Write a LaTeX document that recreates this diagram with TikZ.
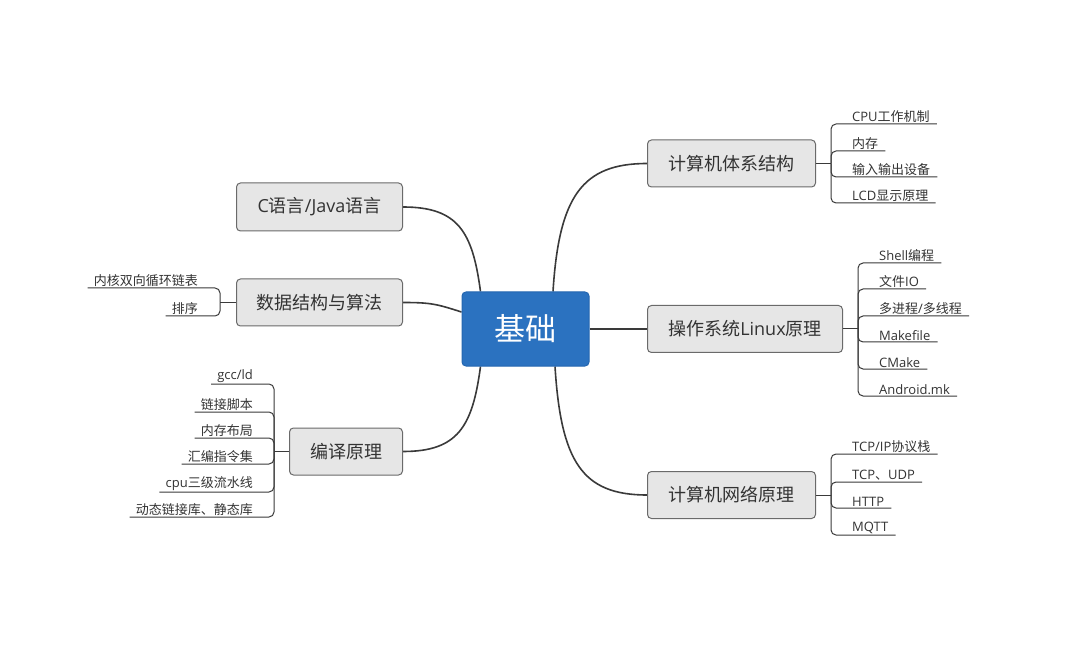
\documentclass[tikz,border=0pt]{standalone}
\usepackage{fontspec}
\usetikzlibrary{backgrounds}
\setmainfont{Open Sans}
\newfontfamily\cjkfont{Noto Sans CJK SC}
% automatic switching to the CJK font for CJK characters
\newXeTeXintercharclass\cjkcls
\newcount\mycnt
\mycnt="4E00
\loop \XeTeXcharclass\mycnt=\cjkcls \advance\mycnt by 1 \ifnum\mycnt<"A000 \repeat
\mycnt="3000
\loop \XeTeXcharclass\mycnt=\cjkcls \advance\mycnt by 1 \ifnum\mycnt<"3040 \repeat
\mycnt="FF00
\loop \XeTeXcharclass\mycnt=\cjkcls \advance\mycnt by 1 \ifnum\mycnt<"FFF0 \repeat
\XeTeXinterchartoks 0 \cjkcls = {\begingroup\cjkfont}
\XeTeXinterchartoks 4095 \cjkcls = {\begingroup\cjkfont}
\XeTeXinterchartoks \cjkcls 0 = {\endgroup}
\XeTeXinterchartoks \cjkcls 4095 = {\endgroup}
\XeTeXinterchartokenstate=1
\definecolor{topicfill}{HTML}{E6E6E6}
\definecolor{topicborder}{HTML}{6A6A6A}
\definecolor{rootfill}{HTML}{2B72C0}
\definecolor{rootborder}{HTML}{2466B0}
\definecolor{textc}{HTML}{333333}
\definecolor{linec}{HTML}{3A3A3A}
\begin{document}
\begin{tikzpicture}[x=1pt,y=-1pt,
  topic/.style={draw=topicborder, fill=topicfill, rounded corners=4pt, line width=1pt,
    text=textc, font=\fontsize{18}{20}\selectfont, inner sep=0pt, minimum height=47pt},
  rootbox/.style={draw=rootborder, fill=rootfill, rounded corners=4pt, line width=1pt,
    text=white, font=\fontsize{31}{34}\selectfont, inner sep=0pt, minimum width=127pt, minimum height=74pt},
  subitem/.style={inner xsep=0pt, inner ysep=1.5pt, text=textc, font=\fontsize{13}{15}\selectfont},
  mainline/.style={draw=linec, line width=1.6pt},
  subline/.style={draw=linec, line width=1pt, rounded corners=5pt}]
\useasboundingbox (0,0) rectangle (1080,647);

% root
\node[rootbox] (root) at (525.5,329) {基础};

% right topics
\node[topic, anchor=west, minimum width=168pt] (t1) at (647,163.5) {计算机体系结构};
\node[topic, anchor=west, minimum width=195pt] (t2) at (647,329) {操作系统Linux原理};
\node[topic, anchor=west, minimum width=168pt] (t3) at (647,495) {计算机网络原理};
% left topics
\node[topic, anchor=east, minimum width=166pt, minimum height=48pt] (l1) at (403,207) {C语言/Java语言};
\node[topic, anchor=east, minimum width=166pt] (l2) at (403,302.5) {数据结构与算法};
\node[topic, anchor=east, minimum width=113pt] (l3) at (403,451.5) {编译原理};

% main connectors (behind the boxes)
\begin{pgfonlayer}{background}
\fill[white] (0,0) rectangle (1080,647);
\draw[mainline] ([xshift=27.5pt]root.north) .. controls +(6,-95) and +(-65,0) .. (t1.west);
\draw[mainline] (root.east) -- (t2.west);
\draw[mainline] ([xshift=29.5pt]root.south) .. controls +(6,95) and +(-65,0) .. (t3.west);
\draw[mainline] ([xshift=-45pt]root.north) .. controls +(-8,-60) and +(55,0) .. (l1.east);
\draw[mainline] ([yshift=17pt]root.west) .. controls +(-25,-8) and +(28,0) .. (l2.east);
\draw[mainline] ([xshift=-45pt]root.south) .. controls +(-8,60) and +(55,0) .. (l3.east);
\end{pgfonlayer}

% junctions
\coordinate (j1) at (831,163.5);
\coordinate (j2) at (858,329);
\coordinate (j3) at (831,495);
\coordinate (j4) at (220,302.5);
\coordinate (j5) at (274,451.5);
\draw[subline] (t1.east) -- (j1);
\draw[subline] (t2.east) -- (j2);
\draw[subline] (t3.east) -- (j3);
\draw[subline] (l2.west) -- (j4);
\draw[subline] (l3.west) -- (j5);

% t1 children
\node[subitem, anchor=south west] (a1) at (852,124) {CPU工作机制};
\node[subitem, anchor=south west] (a2) at (852,151) {内存};
\node[subitem, anchor=south west] (a3) at (852,177) {输入输出设备};
\node[subitem, anchor=south west] (a4) at (852,203) {LCD显示原理};
\foreach \c in {a1,a2,a3,a4} \draw[subline] (j1) |- ([xshift=7pt]\c.south east);

% t2 children
\node[subitem, anchor=south west] (b1) at (879,263) {Shell编程};
\node[subitem, anchor=south west] (b2) at (879,289) {文件IO};
\node[subitem, anchor=south west] (b3) at (879,316) {多进程/多线程};
\node[subitem, anchor=south west] (b4) at (879,342) {Makefile};
\node[subitem, anchor=south west] (b5) at (879,369) {CMake};
\node[subitem, anchor=south west] (b6) at (879,396) {Android.mk};
\foreach \c in {b1,b2,b3,b4,b5,b6} \draw[subline] (j2) |- ([xshift=7pt]\c.south east);

% t3 children
\node[subitem, anchor=south west] (c1) at (852,454) {TCP/IP协议栈};
\node[subitem, anchor=south west] (c2) at (852,482) {TCP、UDP};
\node[subitem, anchor=south west] (c3) at (852,508) {HTTP};
\node[subitem, anchor=south west] (c4) at (852,535) {MQTT};
\foreach \c in {c1,c2,c3,c4} \draw[subline] (j3) |- ([xshift=7pt]\c.south east);

% l2 children
\node[subitem, anchor=south east] (d1) at (198,288) {内核双向循环链表};
\node[subitem, anchor=south east] (d2) at (198,316) {排序};
\foreach \c in {d1,d2} \draw[subline] (j4) |- ([xshift=-6pt]\c.south west);

% l3 children
\node[subitem, anchor=south east] (e1) at (253,384) {gcc/ld};
\node[subitem, anchor=south east] (e2) at (253,412) {链接脚本};
\node[subitem, anchor=south east] (e3) at (253,438) {内存布局};
\node[subitem, anchor=south east] (e4) at (253,464) {汇编指令集};
\node[subitem, anchor=south east] (e5) at (253,492) {cpu三级流水线};
\node[subitem, anchor=south east] (e6) at (253,517) {动态链接库、静态库};
\foreach \c in {e1,e2,e3,e4,e5,e6} \draw[subline] (j5) |- ([xshift=-6pt]\c.south west);
\end{tikzpicture}
\end{document}
